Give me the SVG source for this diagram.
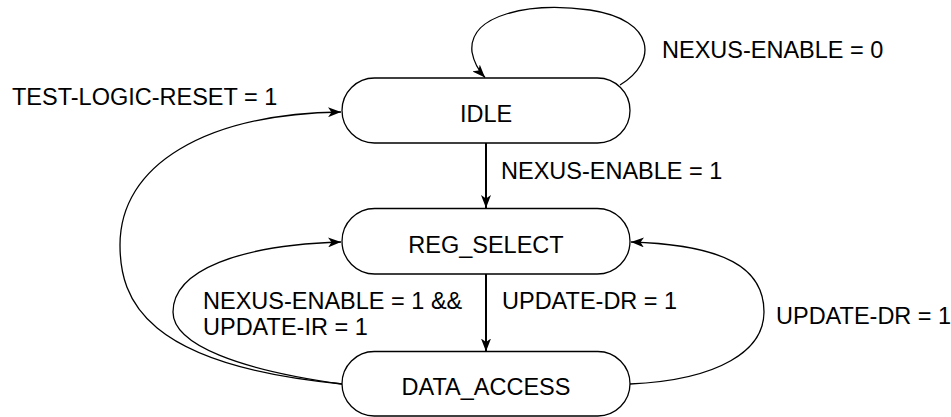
<svg xmlns="http://www.w3.org/2000/svg" width="951" height="417" viewBox="0 0 951 417">
<style>
.node rect{fill:#fff;stroke:#000;stroke-width:1.3}
text{font-family:"Liberation Sans",Arial,Helvetica,sans-serif;font-size:23.5px;fill:#000}
.ntext{text-anchor:middle}
.edge{fill:none;stroke:#000;stroke-width:1.3}
.straight{stroke-width:2}
</style>
<defs>
<marker id="arr" markerUnits="userSpaceOnUse" markerWidth="14" markerHeight="10" refX="13" refY="5" orient="auto">
<path d="M0,0 L13,5 L0,10 L3.5,5 z" fill="#000"/>
</marker>
</defs>
<g id="connectors">
<path class="edge straight" d="M486,143 L486,208" marker-end="url(#arr)"/>
<path class="edge straight" d="M486,274 L486,351.5" marker-end="url(#arr)"/>
<path class="edge" d="M620,85 C658,62 656,20 590,10 C530,2 468,14 472,52 C474,63 478,70 485,77.5" marker-end="url(#arr)"/>
<path class="edge" d="M342,384 C145,365 120,300 120,245 C120,165 205,114 341,112" marker-end="url(#arr)"/>
<path class="edge" d="M342,384 C240,370 173,345 173,312 C173,270 240,245 341,242" marker-end="url(#arr)"/>
<path class="edge" d="M630,384 C720,380 764,350 764,312 C764,268 725,245 631,242" marker-end="url(#arr)"/>
</g>
<g id="idle" class="node">
<rect x="342" y="78" width="288" height="65" rx="32.5"/>
<text class="ntext" x="486" y="121.5">IDLE</text>
</g>
<g id="reg_select" class="node">
<rect x="342" y="208.5" width="288" height="65.5" rx="32.7"/>
<text class="ntext" x="486" y="252.5">REG_SELECT</text>
</g>
<g id="data_access" class="node">
<rect x="342" y="351.5" width="288" height="64.5" rx="32.2"/>
<text class="ntext" x="486" y="395">DATA_ACCESS</text>
</g>
<g id="labels">
<text x="12" y="105">TEST-LOGIC-RESET = 1</text>
<text x="662" y="58">NEXUS-ENABLE = 0</text>
<text x="501" y="179">NEXUS-ENABLE = 1</text>
<text x="203" y="309">NEXUS-ENABLE = 1 &amp;&amp;</text>
<text x="203" y="335">UPDATE-IR = 1</text>
<text x="502" y="309">UPDATE-DR = 1</text>
<text x="776" y="324">UPDATE-DR = 1</text>
</g>
</svg>
